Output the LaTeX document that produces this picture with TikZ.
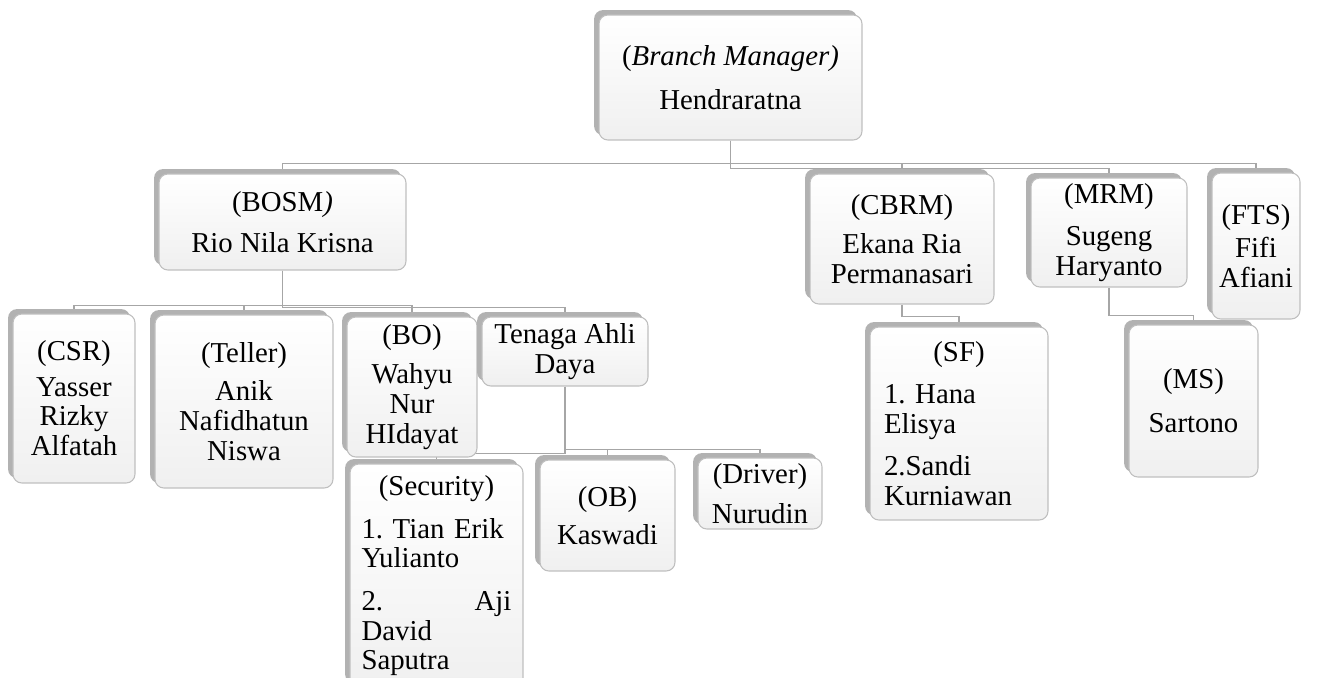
\documentclass[tikz,border=0pt]{standalone}
\usepackage{fontspec}
\setmainfont{Liberation Serif}
\usepackage{tikz}
\usetikzlibrary{shadows,backgrounds,positioning}
\frenchspacing

\begin{document}
\begin{tikzpicture}[x=0.02cm, y=-0.02cm,
    orgbox/.style={draw=gray!50, line width=0.6pt, rounded corners=5pt,
        top color=white, bottom color=gray!12, align=center, inner sep=2pt,
        font=\fontsize{16.4}{17}\selectfont,
        drop shadow={shadow xshift=-2.8pt, shadow yshift=2.8pt, fill=gray!60, opacity=1}},
    link/.style={draw=gray!70, line width=0.8pt}]
    \useasboundingbox (0,0) rectangle (1322,678);

    % Top level
    \node[orgbox, minimum width=5.26cm, minimum height=2.50cm] (bm) at (730.5,77.5)
        {(\textit{Branch Manager)}\\[8pt] Hendraratna};

    % Second level
    \node[orgbox, minimum width=4.94cm, minimum height=1.92cm] (bosm) at (282.5,222)
        {(BOSM\textit{)}\\[6pt] Rio Nila Krisna};
    \node[orgbox, minimum width=3.68cm, minimum height=2.60cm] (cbrm) at (902,239)
        {(CBRM)\\[5pt] Ekana Ria\\ Permanasari};
    \node[orgbox, minimum width=3.12cm, minimum height=2.18cm] (mrm) at (1109,232.5)
        {(MRM)\\[7pt] Sugeng\\ Haryanto};
    \node[orgbox, minimum width=1.76cm, minimum height=2.92cm] (fts) at (1256,246)
        {(FTS)\\[2pt] Fifi\\ Afiani};

    % Under BOSM
    \node[orgbox, minimum width=2.44cm, minimum height=3.38cm] (csr) at (74,398.5)
        {(CSR)\\[3pt] Yasser\\ Rizky\\ Alfatah};
    \node[orgbox, minimum width=3.56cm, minimum height=3.46cm] (teller) at (244,401.5)
        {(Teller)\\[5pt] Anik\\ Nafidhatun\\ Niswa};
    \node[orgbox, minimum width=2.60cm, minimum height=2.80cm] (bo) at (412,387)
        {(BO)\\[5pt] Wahyu\\ Nur\\ HIdayat};
    \node[orgbox, minimum width=3.32cm, minimum height=1.38cm] (tad) at (565,351.5)
        {Tenaga Ahli\\ Daya};

    % Under Tenaga Ahli Daya
    \node[orgbox, minimum width=3.46cm, minimum height=4.48cm, text width=3.0cm, align=left] (sec) at (436.5,576)
        {\makebox[\linewidth]{(Security)}\\[7pt] 1. Tian Erik\\ Yulianto\\[7pt] \makebox[\linewidth]{2.\hfill Aji}\\ David\\ Saputra};
    \node[orgbox, minimum width=2.70cm, minimum height=2.22cm] (ob) at (607.5,515.5)
        {(OB)\\[5pt] Kaswadi};
    \node[orgbox, minimum width=2.48cm, minimum height=1.42cm] (drv) at (760,493.5)
        {(Driver)\\[6pt] Nurudin};

    % Under CBRM and MRM
    \node[orgbox, minimum width=3.56cm, minimum height=3.86cm, text width=3.0cm, align=left] (sf) at (959,423.5)
        {\makebox[\linewidth]{(SF)}\\[7pt] 1. Hana\\ Elisya\\[7pt] 2.Sandi\\ Kurniawan};
    \node[orgbox, minimum width=2.58cm, minimum height=3.04cm] (ms) at (1193.5,401)
        {(MS)\\[8pt] Sartono};

    % Connectors
    \begin{scope}[on background layer]
        \draw[link] (bm.south) -- ++(0,23) -| (bosm.north);
        \draw[link] (bm.south) -- ++(0,23) -| (cbrm.north);
        \draw[link] (bm.south) -- ++(0,23) -| (fts.north);
        \draw[link] (bm.south) -- ++(0,28) -| (mrm.north);
        \draw[link] (bosm.south) -- ++(0,35) -| (csr.north);
        \draw[link] (bosm.south) -- ++(0,35) -| (teller.north);
        \draw[link] (bosm.south) -- ++(0,35) -| (bo.north);
        \draw[link] (bosm.south) -- ++(0,37) -| (tad.north);
        \draw[link] (tad.south) -- ++(0,67) -| (sec.north);
        \draw[link] (tad.south) -- ++(0,63) -| (ob.north);
        \draw[link] (tad.south) -- ++(0,63) -| (drv.north);
        \draw[link] (cbrm.south) -- ++(0,12) -| (sf.north);
        \draw[link] (mrm.south) -- ++(0,28) -| (ms.north);
    \end{scope}
\end{tikzpicture}
\end{document}
